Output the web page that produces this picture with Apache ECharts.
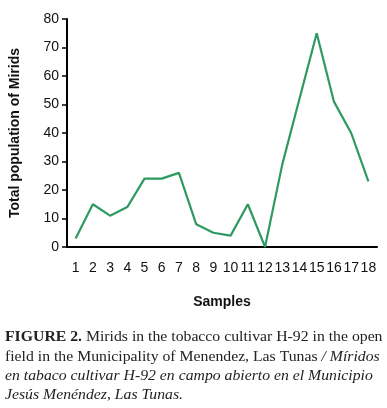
<!DOCTYPE html>
<html><head><meta charset="utf-8">
<script src="https://cdn.jsdelivr.net/npm/echarts@6/dist/echarts.min.js"></script>
<style>html,body{margin:0;padding:0;background:#fff}#c{width:387px;height:408px}</style>
</head><body><div id="c"></div>
<script>
var categories = ['1','2','3','4','5','6','7','8','9','10','11','12','13','14','15','16','17','18'];
var mirids = [3,15,11,14,24,24,26,8,5,4,15,0,29,52,75,51,40,23];
var yTicks = [0,10,20,30,40,50,60,70,80];
var captionLines = [
  [['b','FIGURE 2.'],['n',' Mirids in the tobacco cultivar H-92 in the open']],
  [['n','field in the Municipality of Menendez, Las Tunas '],['i','/ Míridos']],
  [['i','en tabaco cultivar H-92 en campo abierto en el Municipio']],
  [['i','Jesús Menéndez, Las Tunas.']]
];
var chart = echarts.init(document.getElementById('c'), null, {renderer:'canvas'});
var sans = 'Liberation Sans, Arial, sans-serif';
var serif = 'Liberation Serif, Times New Roman, serif';
var graphics = captionLines.map(function(line, i){
  return {
    type:'text', x:5, y:330 + i*19.3, scaleX:1.05,
    style:{
      text: line.map(function(p){return '{'+p[0]+'|'+p[1]+'}';}).join(''),
      rich:{
        b:{fontFamily:serif,fontSize:15,fontWeight:'bold',fill:'#222'},
        n:{fontFamily:serif,fontSize:15,fill:'#222'},
        i:{fontFamily:serif,fontSize:15,fontStyle:'italic',fill:'#222'}
      }
    }
  };
});
chart.setOption({
  animation:false,
  grid:{left:62,right:10,top:19,bottom:161,containLabel:false},
  xAxis:{
    type:'category', data:categories, boundaryGap:true,
    name:'Samples', nameLocation:'middle', nameGap:48,
    nameTextStyle:{fontFamily:sans,fontSize:14,fontWeight:'bold',color:'#111'},
    axisLine:{lineStyle:{color:'#000',width:2}},
    axisTick:{show:false},
    axisLabel:{fontFamily:sans,fontSize:14,color:'#111',margin:14,interval:0}
  },
  yAxis:{
    type:'value', min:yTicks[0], max:yTicks[yTicks.length-1], interval:10,
    name:'Total population of Mirids', nameLocation:'middle', nameGap:45,
    nameTextStyle:{fontFamily:sans,fontSize:14,fontWeight:'bold',color:'#111'},
    axisLine:{show:true,lineStyle:{color:'#000',width:2}},
    axisTick:{show:true,length:5,lineStyle:{color:'#000',width:1.5}},
    splitLine:{show:false},
    axisLabel:{fontFamily:sans,fontSize:14,color:'#111',margin:8}
  },
  series:[{
    type:'line', data:mirids, symbol:'none',
    lineStyle:{color:'#2e9a62',width:2.2}
  }],
  graphic:graphics
});
</script></body></html>
